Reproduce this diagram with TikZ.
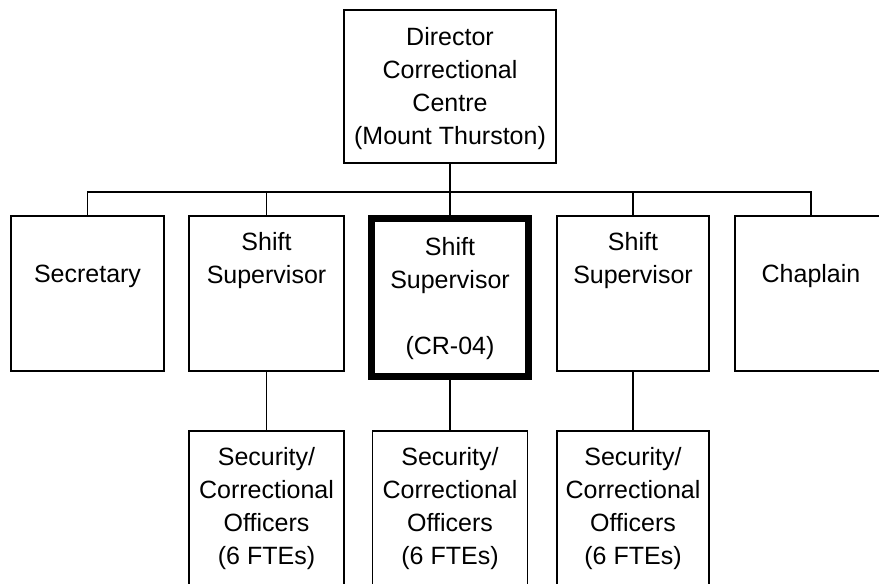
\documentclass[tikz,border=0pt]{standalone}
\usepackage{fontspec}
\setmainfont{Liberation Sans}
\newcommand{\chartfont}{\fontsize{25}{33}\selectfont}

\begin{document}
\begin{tikzpicture}[x=1pt, y=-1pt,
    box/.style={draw, line width=1.6pt, minimum height=155pt, inner sep=0pt},
    keybox/.style={box, line width=7pt, minimum height=158pt},
    txt/.style={font=\chartfont, align=center, anchor=north, inner sep=0pt},
    wire/.style={line width=1.6pt}]
    \useasboundingbox (0,0) rectangle (879,584);
    \clip (0,0) rectangle (879,584);

    % DIRECTOR
    \node[box, minimum width=212pt, minimum height=153pt] (dir) at (450,86.5) {};
    \node[txt] (tdir) at (450,21.9) {Director\strut\\Correctional\strut\\Centre\strut\\(Mount Thurston)\strut};

    % SECOND ROW
    \node[box, minimum width=153pt] (sec) at (87.5,293.5) {};
    \node[box, minimum width=155pt] (ss1) at (266.5,293.5) {};
    \node[keybox, minimum width=157pt] (ss2) at (450,297.5) {};
    \node[box, minimum width=152pt] (ss3) at (633,293.5) {};
    \node[box, minimum width=152pt] (chap) at (811,293.5) {};

    \node[txt] (tsec) at (87.5,258.9) {Secretary\strut};
    \node[txt] (tss1) at (266.5,226.9) {Shift\strut\\Supervisor\strut};
    \node[txt] (tss2) at (450,231.9) {Shift\strut\\Supervisor\strut\\\strut\\(CR-04)\strut};
    \node[txt] (tss3) at (633,226.9) {Shift\strut\\Supervisor\strut};
    \node[txt] (tchap) at (811,258.9) {Chaplain\strut};

    % OFFICERS (third row)
    \foreach \n/\x/\w in {off1/266.5/155, off2/450/155, off3/633/152} {
        \node[box, minimum width=\w pt] (\n) at (\x,508.5) {};
        \node[txt] (t\n) at (\x,441.9) {Security/\strut\\Correctional\strut\\Officers\strut\\(6 FTEs)\strut};
    }

    % connectors
    \coordinate (bus) at (450,192);
    \draw[wire] (dir.south) -- (bus);
    \foreach \n in {sec,ss1,ss2,ss3,chap}
        \draw[wire] (\n.north) |- (bus);
    \draw[wire] (ss1.south) -- (off1.north);
    \draw[wire] (ss2.south) -- (off2.north);
    \draw[wire] (ss3.south) -- (off3.north);
\end{tikzpicture}
\end{document}
